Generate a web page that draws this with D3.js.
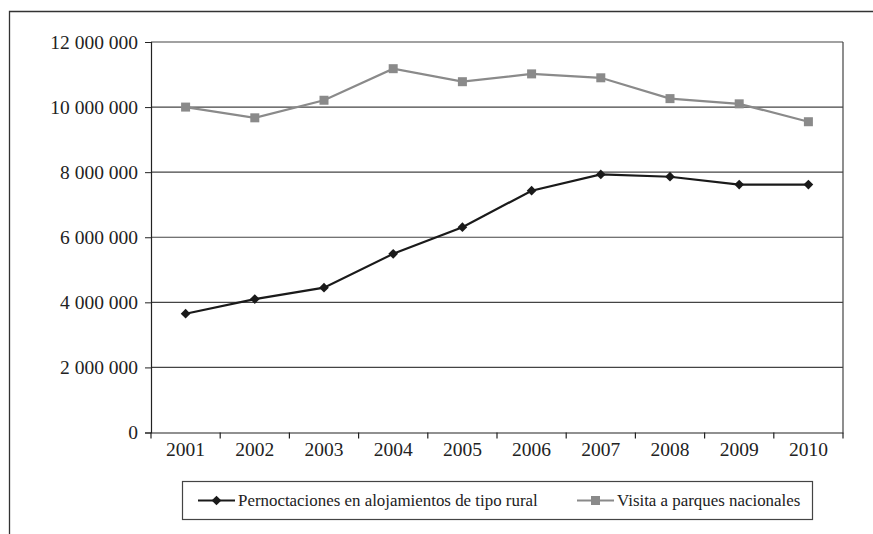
<!DOCTYPE html>
<html>
<head>
<meta charset="utf-8">
<script src="https://cdn.jsdelivr.net/npm/d3@7"></script>
<style>
  body { margin: 0; background: #fff; }
</style>
</head>
<body>
<div id="chart"></div>
<script>
const years = ["2001", "2002", "2003", "2004", "2005", "2006", "2007", "2008", "2009", "2010"];
const pernoctaciones = [3650000, 4100000, 4450000, 5490000, 6310000, 7430000, 7930000, 7860000, 7620000, 7620000];
const visitas = [10000000, 9670000, 10210000, 11180000, 10780000, 11020000, 10900000, 10260000, 10100000, 9550000];
const yTicks = [0, 2000000, 4000000, 6000000, 8000000, 10000000, 12000000];
const seriesNames = ["Pernoctaciones en alojamientos de tipo rural", "Visita a parques nacionales"];

const FONT = "'Liberation Serif', 'DejaVu Serif', serif";

const W = 873, H = 534;
const margin = { top: 42, right: 30, bottom: 101.5, left: 151 };
const width = W - margin.left - margin.right;
const height = H - margin.top - margin.bottom;

const root = d3.select("#chart")
  .append("svg")
    .attr("width", W)
    .attr("height", H)
    .style("font-family", FONT);

// outer frame (open to the right and bottom, as in the source)
root.append("path")
    .attr("d", `M9.5,${H} V11.5 H${W}`)
    .attr("fill", "none")
    .attr("stroke", "#333")
    .attr("stroke-width", 1.3);

const svg = root.append("g")
    .attr("transform", `translate(${margin.left},${margin.top})`);

const x = d3.scaleBand()
    .domain(years)
    .range([0, width]);

const y = d3.scaleLinear()
    .domain([0, 12000000])
    .range([height, 0]);

const fmt = d => d3.format(",")(d).replace(/,/g, " ");

// gridlines
svg.append("g")
  .selectAll("line")
  .data(yTicks.filter(d => d > 0))
  .join("line")
    .attr("x1", 0)
    .attr("x2", width)
    .attr("y1", d => y(d))
    .attr("y2", d => y(d))
    .attr("stroke", "#444")
    .attr("stroke-width", 1.2);

// right border of plot
svg.append("line")
    .attr("x1", width).attr("x2", width)
    .attr("y1", 0).attr("y2", height)
    .attr("stroke", "#444")
    .attr("stroke-width", 1.2);

// y axis
const yAxis = svg.append("g")
    .call(d3.axisLeft(y).tickValues(yTicks).tickFormat(fmt).tickSize(6).tickPadding(7));
yAxis.attr("font-family", null);
yAxis.select(".domain").attr("stroke", "#222").attr("stroke-width", 1.2);
yAxis.selectAll(".tick line").attr("stroke", "#222");
yAxis.selectAll("text")
    .style("font-family", FONT)
    .style("font-size", "19.5px")
    .attr("fill", "#222");

// x axis: ticks at the band edges
const xAxis = svg.append("g")
    .attr("transform", `translate(0,${height})`)
    .call(d3.axisBottom(x).tickSize(0).tickPadding(10));
xAxis.attr("font-family", null);
xAxis.select(".domain").attr("stroke", "#222").attr("stroke-width", 1.2);
xAxis.selectAll("text")
    .style("font-family", FONT)
    .style("font-size", "19.5px")
    .attr("fill", "#222");

svg.append("g")
  .selectAll("line")
  .data(years.concat(["end"]))
  .join("line")
    .attr("x1", (d, i) => i * x.step())
    .attr("x2", (d, i) => i * x.step())
    .attr("y1", height)
    .attr("y2", height + 6)
    .attr("stroke", "#222")
    .attr("stroke-width", 1.2);

const line = d3.line()
    .x((d, i) => x(years[i]) + x.bandwidth() / 2)
    .y(d => y(d));

// gray series: squares
svg.append("path")
    .datum(visitas)
    .attr("fill", "none")
    .attr("stroke", "#8a8a8a")
    .attr("stroke-width", 2.2)
    .attr("d", line);

svg.append("g")
  .selectAll("rect")
  .data(visitas)
  .join("rect")
    .attr("x", (d, i) => x(years[i]) + x.bandwidth() / 2 - 4.5)
    .attr("y", d => y(d) - 4.5)
    .attr("width", 9)
    .attr("height", 9)
    .attr("fill", "#8a8a8a");

// black series: diamonds
svg.append("path")
    .datum(pernoctaciones)
    .attr("fill", "none")
    .attr("stroke", "#1a1a1a")
    .attr("stroke-width", 2.2)
    .attr("d", line);

const diamond = d3.symbol().type(d3.symbolDiamond2).size(60);

svg.append("g")
  .selectAll("path")
  .data(pernoctaciones)
  .join("path")
    .attr("transform", (d, i) => `translate(${x(years[i]) + x.bandwidth() / 2},${y(d)})`)
    .attr("d", diamond)
    .attr("fill", "#1a1a1a");

// legend
const legend = root.append("g");
legend.append("rect")
    .attr("x", 182.5)
    .attr("y", 481.5)
    .attr("width", 630)
    .attr("height", 38)
    .attr("fill", "none")
    .attr("stroke", "#444")
    .attr("stroke-width", 1.2);

const ly = 500.5;
const items = [
  { name: seriesNames[0], x0: 198, color: "#1a1a1a", mark: "diamond" },
  { name: seriesNames[1], x0: 577, color: "#8a8a8a", mark: "square" }
];

items.forEach(it => {
  const g = legend.append("g");
  g.append("line")
      .attr("x1", it.x0).attr("x2", it.x0 + 37)
      .attr("y1", ly).attr("y2", ly)
      .attr("stroke", it.color)
      .attr("stroke-width", 2);
  if (it.mark === "diamond") {
    g.append("path")
        .attr("transform", `translate(${it.x0 + 18.5},${ly})`)
        .attr("d", diamond)
        .attr("fill", it.color);
  } else {
    g.append("rect")
        .attr("x", it.x0 + 14).attr("y", ly - 4.5)
        .attr("width", 9).attr("height", 9)
        .attr("fill", it.color);
  }
  g.append("text")
      .attr("x", it.x0 + 40)
      .attr("y", ly)
      .attr("dy", "0.35em")
      .style("font-family", FONT)
      .style("font-size", "16.9px")
      .attr("fill", "#222")
      .text(it.name);
});
</script>
</body>
</html>
